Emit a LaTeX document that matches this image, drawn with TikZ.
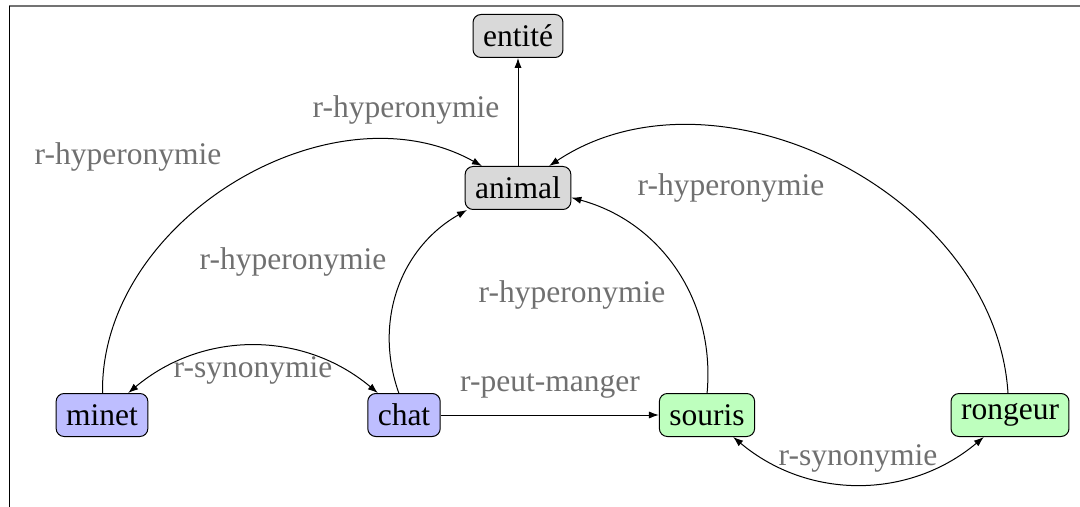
\documentclass[tikz,border=0pt]{standalone}
\usepackage{fontspec}
\setmainfont{Liberation Serif}
\usetikzlibrary{arrows.meta}
\definecolor{cblue}{RGB}{190,190,255}
\definecolor{cgreen}{RGB}{190,255,190}
\definecolor{cgray}{RGB}{217,217,217}
\definecolor{lblgray}{RGB}{112,112,112}
\begin{document}
\begin{tikzpicture}[x=0.5pt,y=-0.5pt,
  concept/.style={draw, rounded corners=4pt, minimum height=21.5pt, inner xsep=5pt,
    font=\fontsize{15.75}{18}\selectfont, line width=0.5pt},
  blueconcept/.style={concept, fill=cblue},
  greenconcept/.style={concept, fill=cgreen},
  grayconcept/.style={concept, fill=cgray},
  lbl/.style={text=lblgray, inner sep=0pt, font=\fontsize{15.75}{18}\selectfont},
  rel/.style={line width=0.5pt, -{Latex[length=5pt,width=3.6pt]}},
  birel/.style={line width=0.5pt, {Latex[length=5pt,width=3.6pt]}-{Latex[length=5pt,width=3.6pt]}}
]
\useasboundingbox (0,0) rectangle (1080,507);
\draw[color=black!55, line width=0.8pt] (9,6) -- (1080,6);
\draw[color=black, line width=0.5pt] (9,6) -- (9,507);

\node[grayconcept] (entite) at (518,36) {entité};
\node[grayconcept] (animal) at (518,188) {animal};
\node[blueconcept] (minet) at (102,415) {minet};
\node[blueconcept] (chat) at (404,415) {chat};
\node[greenconcept] (souris) at (707,415) {souris};
\node[greenconcept] (rongeur) at (1010,415) {rongeur};

\draw[rel] (animal) -- (entite);
\draw[rel] (minet) to[bend left=60] (animal);
\draw[rel] (chat) to[bend left=40] (animal);
\draw[rel] (souris) to[bend right=40] (animal);
\draw[rel] (rongeur) to[bend right=60] (animal);
\draw[birel] (minet) to[bend left=40] (chat);
\draw[rel] (chat) -- (souris);
\draw[birel] (souris) to[bend right=40] (rongeur);

\node[lbl] (l1) at (406,110) {r-hyperonymie};
\node[lbl] (l2) at (128,157) {r-hyperonymie};
\node[lbl] (l3) at (293,262) {r-hyperonymie};
\node[lbl] (l4) at (572,295) {r-hyperonymie};
\node[lbl] (l5) at (731,188) {r-hyperonymie};
\node[lbl] (l6) at (253,370) {r-synonymie};
\node[lbl] (l7) at (550,386) {r-peut-manger};
\node[lbl] (l8) at (858,458) {r-synonymie};
\end{tikzpicture}
\end{document}
